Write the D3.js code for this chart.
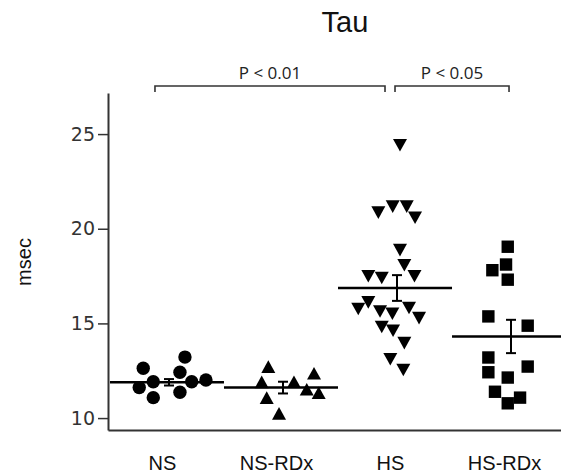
<!DOCTYPE html>
<html><head><meta charset="utf-8">
<script src="https://cdn.jsdelivr.net/npm/d3@7"></script>
<style>body{margin:0;background:#fff}svg{display:block}</style>
</head><body>
<svg id="c" width="561" height="474"></svg>
<script>
const categories = ["NS", "NS-RDx", "HS", "HS-RDx"];
const yTicks = [10, 15, 20, 25];
const means = [11.89, 11.61, 16.87, 14.31];
const sems = [0.17, 0.31, 0.68, 0.88];

const nsValues = [12.63, 11.61, 11.92, 11.08, 13.22, 12.42, 11.36, 11.92, 12.01];
const nsJitter = [-0.217, -0.252, -0.129, -0.129, 0.149, 0.105, 0.105, 0.208, 0.333];
const nsRdxValues = [12.72, 11.91, 11.08, 10.25, 11.92, 12.37, 11.52, 11.34];
const nsRdxJitter = [-0.120, -0.178, -0.134, -0.026, 0.105, 0.281, 0.217, 0.322];
const hsValues = [24.41, 20.85, 21.17, 21.17, 20.58, 18.87, 18.07, 17.49, 17.40, 17.49, 16.11, 15.76, 15.63, 15.51, 15.81, 15.28, 14.81, 14.61, 13.96, 13.11, 12.54];
const hsJitter = [0.035, -0.155, -0.029, 0.094, 0.167, 0.035, 0.073, -0.243, -0.125, 0.162, -0.243, -0.331, -0.140, -0.032, 0.114, 0.202, -0.125, -0.026, 0.073, -0.050, 0.064];
const hsRdxValues = [19.05, 18.11, 17.81, 17.31, 15.37, 14.88, 13.20, 12.42, 12.72, 12.14, 11.39, 10.78, 11.08];
const hsRdxJitter = [-0.020, -0.035, -0.155, -0.020, -0.190, 0.155, -0.190, -0.190, 0.155, -0.020, -0.132, -0.020, 0.088];

const groupValues = [nsValues, nsRdxValues, hsValues, hsRdxValues];
const groupJitter = [nsJitter, nsRdxJitter, hsJitter, hsRdxJitter];
const comparisons = [["NS", "HS", "P < 0.01"], ["HS", "HS-RDx", "P < 0.05"]];

const svg = d3.select("#c");
const y = d3.scaleLinear().domain([9.37, 27.17]).range([430, 93]);
const x = d3.scalePoint().domain(categories).range([108, 570]).padding(0.526);
const step = x.step();

// symbols
const circleSym = {draw(ctx, s){ const r = 6.7; ctx.moveTo(r,0); ctx.arc(0,0,r,0,2*Math.PI); }};
const triUp = {draw(ctx, s){ const w = 7, h = 6.3; ctx.moveTo(0,-h); ctx.lineTo(w,h); ctx.lineTo(-w,h); ctx.closePath(); }};
const triDown = {draw(ctx, s){ const w = 7, h = 6.3; ctx.moveTo(0,h); ctx.lineTo(w,-h); ctx.lineTo(-w,-h); ctx.closePath(); }};
const square = {draw(ctx, s){ const a = 6.2; ctx.rect(-a,-a,2*a,2*a); }};
const symbols = [circleSym, triUp, triDown, square];

// axes
const yAxis = d3.axisLeft(y).tickValues(yTicks).tickSize(10).tickSizeOuter(0).tickPadding(3);
const gy = svg.append("g").attr("transform", "translate(108,0)").call(yAxis);
gy.select(".domain").attr("stroke", "#333").attr("stroke-width", 2);
gy.selectAll(".tick line").attr("stroke", "#333").attr("stroke-width", 1.5);
gy.selectAll(".tick text").attr("font-family", "DejaVu Sans, Verdana, sans-serif").attr("font-size", 19).attr("fill", "#333");

const xAxis = d3.axisBottom(x).tickSize(0).tickSizeOuter(0).tickPadding(26);
const gx = svg.append("g").attr("transform", "translate(0,430)").call(xAxis);
gx.select(".domain").attr("stroke", "#333").attr("stroke-width", 2);
gx.selectAll(".tick text").attr("font-family", "Liberation Sans, Arial, sans-serif").attr("font-size", 20).attr("fill", "#111").attr("dx", -6);

// y label
svg.append("text").attr("transform", "translate(31,262) rotate(-90)").attr("text-anchor", "middle")
  .attr("font-family", "Liberation Sans, Arial, sans-serif").attr("font-size", 20).attr("fill", "#111").text("msec");

// title
svg.append("text").attr("x", 345).attr("y", 32).attr("text-anchor", "middle")
  .attr("font-family", "Liberation Sans, Arial, sans-serif").attr("font-size", 29).attr("fill", "#111").text("Tau");

// points
categories.forEach((cat, i) => {
  const g = svg.append("g");
  const pts = groupValues[i].map((v, j) => ({v, dx: groupJitter[i][j]}));
  g.selectAll("path").data(pts).join("path")
    .attr("d", d3.symbol().type(symbols[i]))
    .attr("transform", d => `translate(${x(cat) + d.dx * step},${y(d.v)})`)
    .attr("fill", "#000");
  const cx = x(cat) - 1;
  g.append("line").attr("x1", cx - step / 2).attr("x2", cx + step / 2)
    .attr("y1", y(means[i])).attr("y2", y(means[i])).attr("stroke", "#000").attr("stroke-width", 2.5);
  const ex = x(cat) + 1;
  const top = y(means[i] + sems[i]), bot = y(means[i] - sems[i]);
  g.append("line").attr("x1", ex).attr("x2", ex).attr("y1", top).attr("y2", bot).attr("stroke", "#000").attr("stroke-width", 2);
  [top, bot].forEach(yy => g.append("line").attr("x1", ex - 5).attr("x2", ex + 5).attr("y1", yy).attr("y2", yy).attr("stroke", "#000").attr("stroke-width", 2));
});

// significance brackets
const bracketInset = [[-13, -11], [-1, -1]];
comparisons.forEach((c, k) => {
  const x1 = x(c[0]) + bracketInset[k][0], x2 = x(c[1]) + bracketInset[k][1];
  const by = 86;
  svg.append("path").attr("d", `M${x1},${by + 6}V${by}H${x2}V${by + 6}`)
    .attr("fill", "none").attr("stroke", "#333").attr("stroke-width", 1.6);
  svg.append("text").attr("x", (x1 + x2) / 2).attr("y", 79).attr("text-anchor", "middle")
    .attr("font-family", "Open Sans, Noto Sans, sans-serif").attr("font-size", 17).attr("fill", "#222").text(c[2]);
});
</script>
</body></html>
